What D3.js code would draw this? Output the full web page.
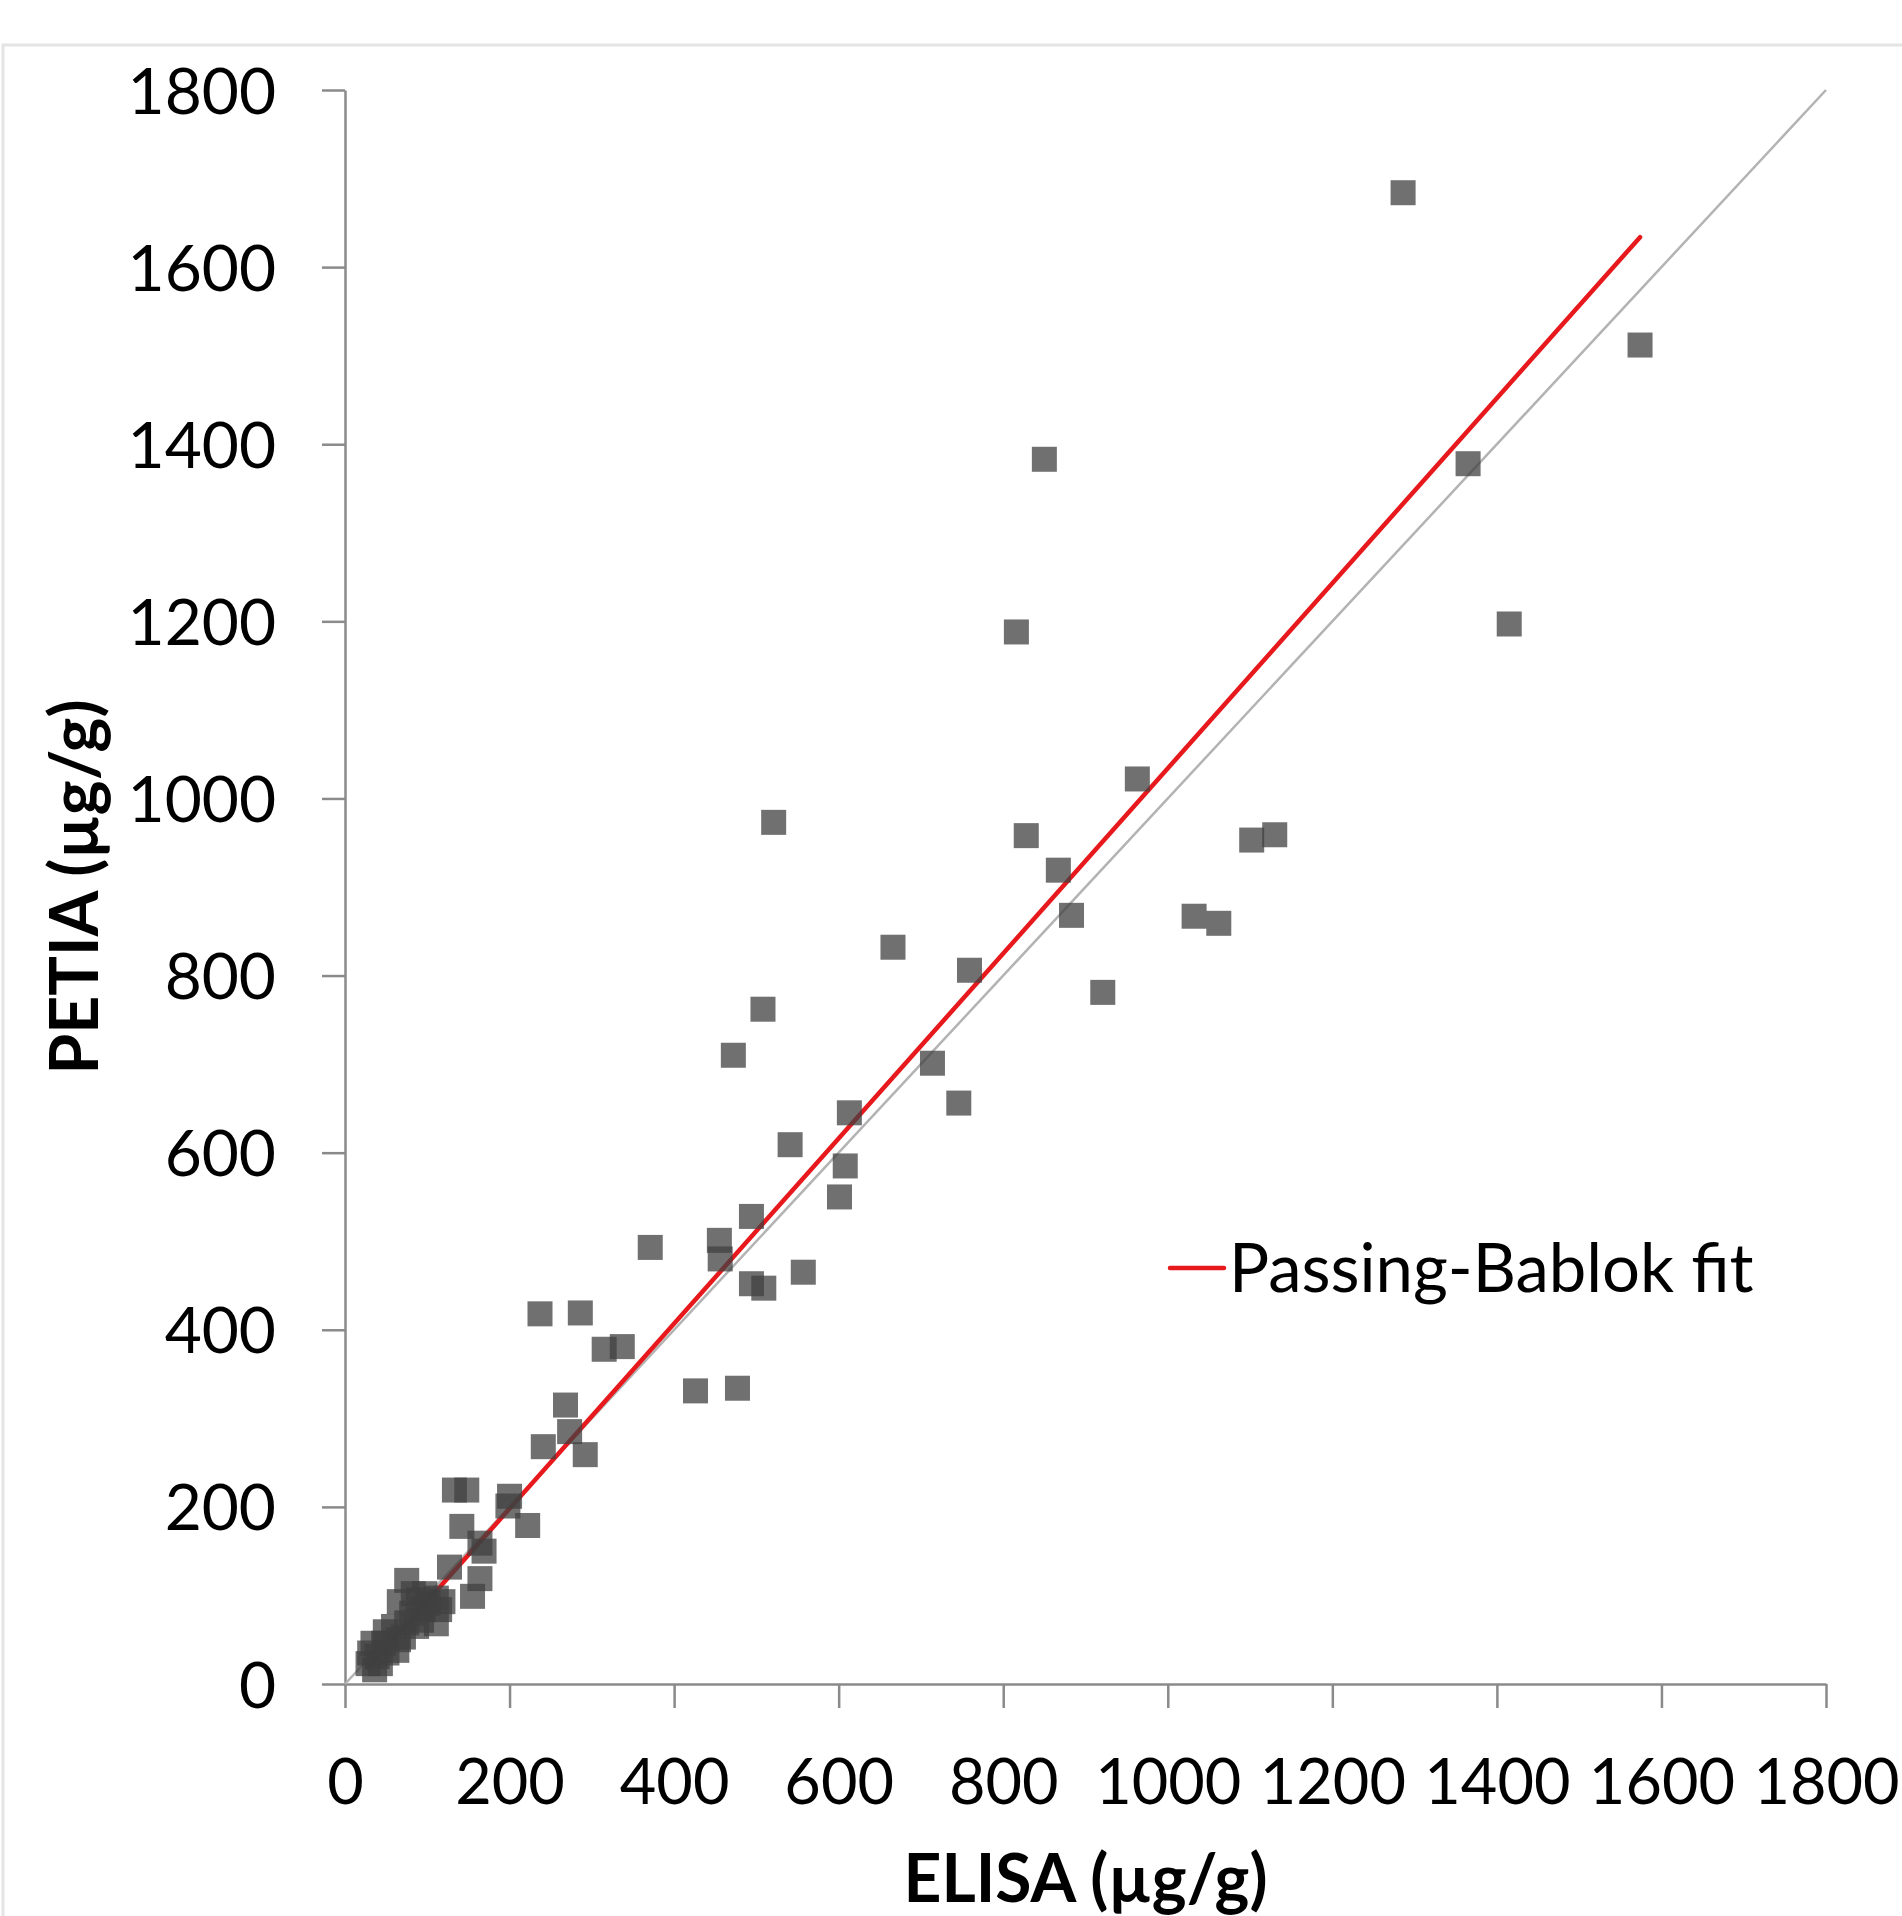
<!DOCTYPE html>
<html>
<head>
<meta charset="utf-8">
<script src="https://cdn.jsdelivr.net/npm/d3@7"></script>
<style>
  body { margin: 0; background: #fff; }
  svg { display: block; font-family: Lato, "Open Sans", sans-serif; }
</style>
</head>
<body>
<div id="chart"></div>
<script>
// ELISA (x) vs PETIA (y)
var elisa = [1286, 1574, 1365, 1415, 850, 816, 963, 521, 828, 867, 883, 759, 921, 1102, 1130, 1032, 1062,
  714, 666, 508, 472, 746, 613, 541, 608, 601, 494, 371, 455, 456, 557, 494, 509, 237, 286, 315, 337,
  426, 477, 268, 273, 241, 292, 200, 198, 222, 133, 148, 142, 164, 169, 127, 164, 155,
  75, 66, 83, 97, 111, 119, 115, 111, 95, 81, 75, 87, 65, 63, 49, 47, 34, 30, 39, 36, 43, 28, 51, 71, 93, 101, 89, 59]
var petia = [1684, 1512, 1378, 1197, 1383, 1188, 1022, 973, 958, 919, 868, 806, 781, 953, 959, 867, 859,
  701, 832, 762, 710, 656, 645, 609, 585, 550, 528, 493, 501, 480, 465, 452, 447, 418, 419, 378, 381,
  331, 334, 315, 285, 268, 259, 212, 201, 179, 219, 219, 178, 159, 150, 132, 119, 99,
  117, 93, 102, 102, 97, 93, 84, 68, 84, 80, 69, 65, 50, 38, 59, 46, 46, 35, 31, 16, 23, 23, 35, 53, 72, 91, 95, 65]

// Passing-Bablok regression line
var fitIntercept = -11
var fitSlope = 1.045

var ticks = [0, 200, 400, 600, 800, 1000, 1200, 1400, 1600, 1800]
var xTitle = 'ELISA (µg/g)'
var yTitle = 'PETIA (µg/g)'
var legendLabel = 'Passing-Bablok fit'

var W = 1902, H = 1916
var plot = { left: 345, right: 1826, top: 90, bottom: 1684 }
var axisColor = '#8a8a8a'
var fmt = d3.format('d')

var svg = d3.select('#chart').append('svg')
  .attr('width', W)
  .attr('height', H)

// light outer frame
svg.append('rect')
  .attr('x', 3).attr('y', 45)
  .attr('width', 1960).attr('height', 1960)
  .attr('fill', 'none')
  .attr('stroke', '#e4e4e4')
  .attr('stroke-width', 3)

var x = d3.scaleLinear().domain([0, 1800]).range([plot.left, plot.right])
var y = d3.scaleLinear().domain([0, 1800]).range([plot.bottom, plot.top])

// y axis
var yAxis = svg.append('g')
  .attr('transform', 'translate(' + plot.left + ',0)')
  .call(d3.axisLeft(y).tickValues(ticks).tickFormat(fmt).tickSize(23).tickSizeOuter(0).tickPadding(46))
yAxis.select('.domain').attr('stroke', axisColor).attr('stroke-width', 2.5)
yAxis.selectAll('.tick line').attr('stroke', axisColor).attr('stroke-width', 2.5)
yAxis.selectAll('.tick text')
  .attr('font-size', 64)
  .attr('fill', '#000')
  .attr('font-family', 'Lato, sans-serif')
  .attr('dy', '0.36em')

// x axis
var xAxis = svg.append('g')
  .attr('transform', 'translate(0,' + plot.bottom + ')')
  .call(d3.axisBottom(x).tickValues(ticks).tickFormat(fmt).tickSize(24).tickSizeOuter(0))
xAxis.select('.domain').attr('stroke', axisColor).attr('stroke-width', 2.5)
xAxis.selectAll('.tick line').attr('stroke', axisColor).attr('stroke-width', 2.5)
xAxis.selectAll('.tick text')
  .attr('font-size', 63)
  .attr('fill', '#000')
  .attr('font-family', 'Lato, sans-serif')
  .attr('y', 120)
  .attr('dy', 0)

// identity line
svg.append('line')
  .attr('x1', x(0)).attr('y1', y(0))
  .attr('x2', x(1800)).attr('y2', y(1800))
  .attr('stroke', '#b3b3b3')
  .attr('stroke-width', 2.5)

// fit line over the data range
var xExt = d3.extent(elisa)
svg.append('line')
  .attr('x1', x(xExt[0])).attr('y1', y(fitIntercept + fitSlope * xExt[0]))
  .attr('x2', x(xExt[1])).attr('y2', y(fitIntercept + fitSlope * xExt[1]))
  .attr('stroke', '#e8191c')
  .attr('stroke-width', 4.5)
  .attr('stroke-linecap', 'round')

// points
var size = 25
svg.append('g').selectAll('rect')
  .data(elisa.map((d, i) => ({ x: d, y: petia[i] })))
  .join('rect')
  .attr('x', d => x(d.x) - size / 2)
  .attr('y', d => y(d.y) - size / 2)
  .attr('width', size)
  .attr('height', size)
  .attr('fill', '#404040')
  .attr('fill-opacity', 0.75)

// legend
svg.append('line')
  .attr('x1', 1170).attr('x2', 1224)
  .attr('y1', 1268).attr('y2', 1268)
  .attr('stroke', '#e8191c')
  .attr('stroke-width', 4.5)
  .attr('stroke-linecap', 'round')
svg.append('text')
  .attr('x', 1229).attr('y', 1292)
  .attr('font-size', 67)
  .text(legendLabel)

// axis titles
svg.append('text')
  .attr('x', (plot.left + plot.right) / 2)
  .attr('y', 1902)
  .attr('text-anchor', 'middle')
  .attr('font-size', 66)
  .attr('font-weight', 'bold')
  .text(xTitle)

svg.append('text')
  .attr('transform', 'translate(98,' + (plot.top + plot.bottom) / 2 + ') rotate(-90)')
  .attr('text-anchor', 'middle')
  .attr('font-size', 66)
  .attr('font-weight', 'bold')
  .text(yTitle)
</script>
</body>
</html>
